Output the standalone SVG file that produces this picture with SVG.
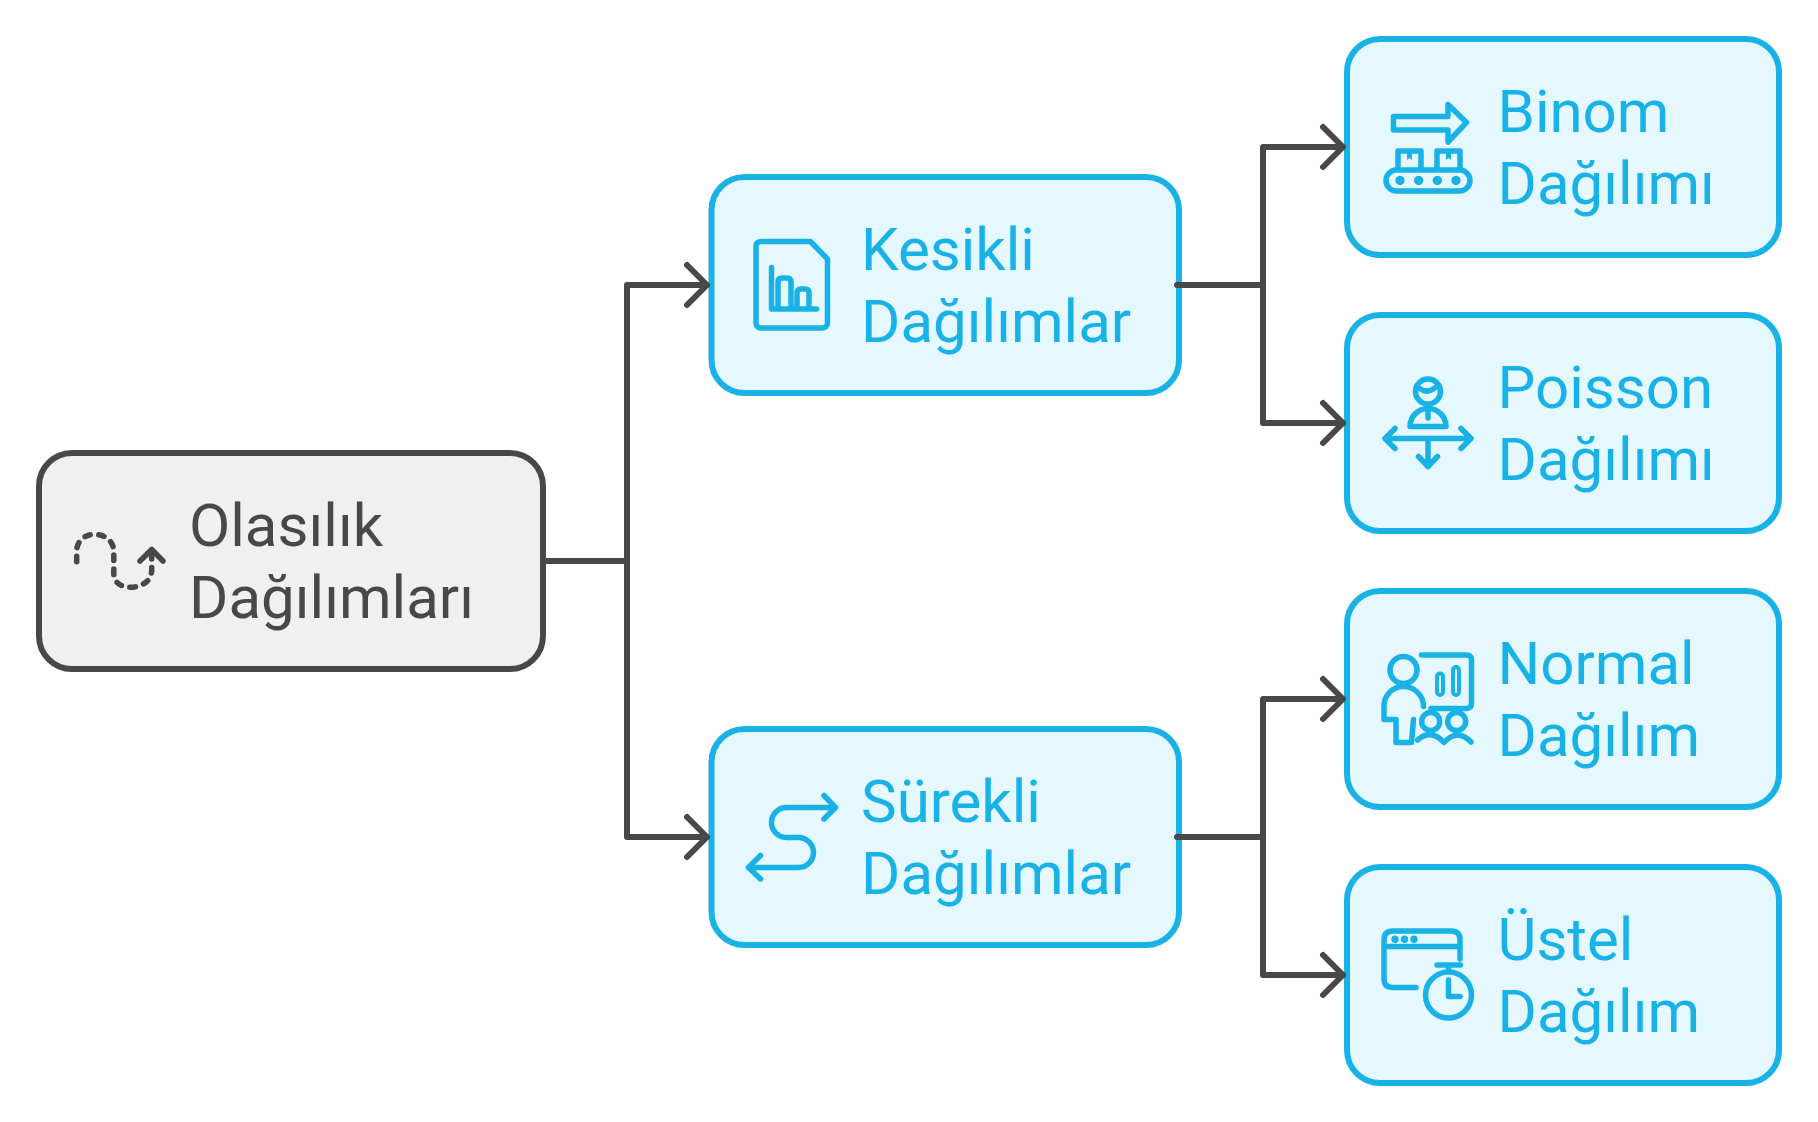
<svg xmlns="http://www.w3.org/2000/svg" width="1818" height="1122" viewBox="0 0 1818 1122">
<style>
text{font-family:Roboto,"Liberation Sans",sans-serif;font-size:60px}
.box{stroke-width:6;rx:33px;ry:33px}
.blue .box{fill:#e5f8ff;stroke:#18b2e6}
.blue text{fill:#18b2e6}
.blue .ic{fill:none;stroke:#18b2e6;stroke-width:5.500;stroke-linecap:round;stroke-linejoin:round}
.blue .thin{stroke-width:4}
.blue .dot{fill:#18b2e6}
.gray .box{fill:#f0f0f0;stroke:#484848}
.gray text{fill:#484848}
.gray .ic{fill:none;stroke:#484848;stroke-width:5.500;stroke-linecap:round;stroke-linejoin:round}
.con{fill:none;stroke:#484848;stroke-width:6;stroke-linejoin:round;stroke-linecap:round}
</style>
<rect width="1818" height="1122" fill="#ffffff"/>
<g id="root" class="gray">
<rect class="box" x="39" y="453" width="504" height="216"/>
<path class="ic" stroke-dasharray="5.500 8.500" d="M76.700 561.700V551C76.700 541 85 534.300 94 534.300C105 534.300 113.800 541 113.800 552V574C113.800 582 121 587.300 130 587.300C143 587.300 151.700 580 151.700 570V552"/>
<path class="ic" d="M140 561L151.700 549.500 163 561"/>
<text x="189" y="546">Olasılık</text>
<text x="189" y="618">Dağılımları</text>
</g>
<g id="kesikli" class="blue">
<rect class="box" x="711.500" y="177" width="467.500" height="216"/>
<path class="ic" d="M761 241.500H810.500L827.500 259V323C827.500 326 825 328 822 328H761C758 328 756 326 756 323V246C756 243 758 241.500 761 241.500Z"/>
<path class="ic" d="M771.500 267.500V309H816.500M778 309V282Q778 278 782 278H787Q791 278 791 282V309M797 309V293Q797 289 801 289H805Q809 289 809 293V309"/>
<text x="861" y="270">Kesikli</text>
<text x="861" y="342">Dağılımlar</text>
</g>
<g id="surekli" class="blue">
<rect class="box" x="711.500" y="729" width="467.500" height="216"/>
<path class="ic" d="M824 795.500L835.500 807.500 824 819M835.500 807.500H786.500A15 15 0 0 0 786.500 837.500H798.500A15 15 0 0 1 798.500 867.500H748.500M760.500 855.500L748.500 867.500 760.500 879"/>
<text x="861" y="822">Sürekli</text>
<text x="861" y="894">Dağılımlar</text>
</g>
<g id="binom" class="blue">
<rect class="box" x="1347" y="39" width="432" height="216"/>
<path class="ic" d="M1393.500 116.500H1448V104.500L1466.500 122.500 1448 142V130H1393.500Z"/>
<path class="ic" d="M1398 169V151H1421V169M1437 169V151H1460V169"/>
<path class="dot" d="M1407 150H1412V160L1409.500 158 1407 160ZM1446 150H1451V160L1448.500 158 1446 160Z"/>
<rect class="ic" x="1386" y="170" width="84" height="21" rx="10.500"/>
<circle class="dot" cx="1400" cy="180.500" r="4.700"/><circle class="dot" cx="1418.700" cy="180.500" r="4.700"/><circle class="dot" cx="1437.300" cy="180.500" r="4.700"/><circle class="dot" cx="1456" cy="180.500" r="4.700"/>
<text x="1497.500" y="132">Binom</text>
<text x="1497.500" y="204">Dağılımı</text>
</g>
<g id="poisson" class="blue">
<rect class="box" x="1347" y="315" width="432" height="216"/>
<circle class="ic" cx="1428" cy="391.500" r="12.500"/>
<path class="ic" d="M1420.500 389Q1428 394 1436 387"/>
<path class="ic" d="M1410 426.500A18 18 0 0 1 1446 426.500ZM1428 410V418"/>
<path class="ic" d="M1385 438.500H1471M1395 428.500L1385 438.500 1395 448.500M1461 428.500L1471 438.500 1461 448.500M1428 438.500V466.500M1418.500 456.500L1428 466.500 1437.500 456.500"/>
<text x="1497.500" y="408">Poisson</text>
<text x="1497.500" y="480">Dağılımı</text>
</g>
<g id="normal" class="blue">
<rect class="box" x="1347" y="591" width="432" height="216"/>
<circle class="ic" cx="1403.500" cy="670" r="13.500"/>
<path class="ic" d="M1423.500 706.500A20 20 0 0 0 1403.500 686.500A19.500 19.500 0 0 0 1384 706.500V719.500H1396V742.500H1411.500L1413.500 719.500"/>
<path class="ic" d="M1421.500 655H1466Q1471.500 655 1471.500 660V703Q1471.500 708.500 1466 708.500H1431"/>
<rect class="ic thin" x="1437" y="673.500" width="6" height="21.500" rx="3"/>
<rect class="ic thin" x="1453" y="667" width="6" height="28" rx="3"/>
<circle class="ic" cx="1430.700" cy="721.500" r="9"/><circle class="ic" cx="1456.700" cy="721.500" r="9"/>
<path class="ic" d="M1417.500 740Q1431 728 1444 742.500Q1457 728 1471 742"/>
<text x="1497.500" y="684">Normal</text>
<text x="1497.500" y="756">Dağılım</text>
</g>
<g id="ustel" class="blue">
<rect class="box" x="1347" y="867" width="432" height="216"/>
<path class="ic" d="M1460 959V940Q1460 931 1451 931H1393Q1384 931 1384 940V979Q1384 987.500 1393 987.500H1416M1384 946.500H1460"/>
<circle class="dot" cx="1395" cy="939.300" r="3.700"/><circle class="dot" cx="1404.500" cy="939.300" r="3.700"/><circle class="dot" cx="1414" cy="939.300" r="3.700"/>
<circle class="ic" cx="1448.500" cy="995" r="23"/>
<path class="ic" d="M1448.500 980V996.500H1460M1448.500 965V971M1437 965H1460.500"/>
<text x="1497.500" y="960">Üstel</text>
<text x="1497.500" y="1032">Dağılım</text>
</g>
<g id="connectors">
<path class="con" d="M543 561H627V285H707M687 265L707 285 687 305"/>
<path class="con" d="M627 561V837H707M687 817L707 837 687 857"/>
<path class="con" d="M1177 285H1263V147H1343M1323 127L1343 147 1323 167"/>
<path class="con" d="M1263 285V423H1343M1323 403L1343 423 1323 443"/>
<path class="con" d="M1177 837H1263V699H1343M1323 679L1343 699 1323 719"/>
<path class="con" d="M1263 837V975H1343M1323 955L1343 975 1323 995"/>
</g>
</svg>
